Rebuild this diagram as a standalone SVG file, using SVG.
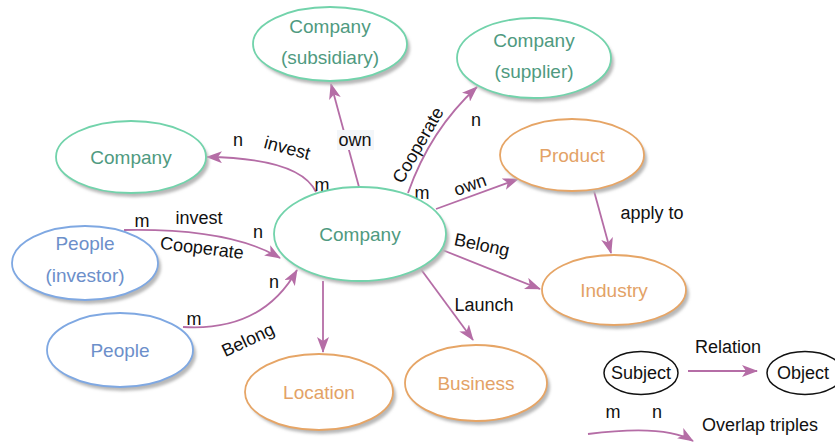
<svg xmlns="http://www.w3.org/2000/svg" width="835" height="442" viewBox="0 0 835 442">
  <defs>
    <filter id="soft" x="-10%" y="-10%" width="120%" height="130%">
      <feGaussianBlur stdDeviation="1.6"/>
    </filter>
    <marker id="arr" viewBox="0 0 16 12" refX="15" refY="6" markerWidth="16" markerHeight="12" markerUnits="userSpaceOnUse" orient="auto">
      <path d="M0,0 L16,6 L0,12 L4,6 z" fill="#b56da6"/>
    </marker>
  </defs>
  <style>
    text { font-family: "Liberation Sans", Arial, sans-serif; text-anchor: middle; }
    .shadow { fill: #b8b8b8; stroke: none; filter: url(#soft); }
    .node { fill: #ffffff; stroke-width: 1.8; }
    .green { stroke: #72d3ab; }
    .orange { stroke: #e6a566; }
    .blue { stroke: #7fa8e2; }
    .tg { fill: #4f9a80; font-size: 19px; }
    .to { fill: #e3a266; font-size: 19px; }
    .tb { fill: #6c8fca; font-size: 19px; }
    .lbl { fill: #111111; font-size: 18px; }
    .edge { fill: none; stroke: #b56da6; stroke-width: 1.8; marker-end: url(#arr); }
    .legend { fill: #ffffff; stroke: #111111; stroke-width: 1.5; }
  </style>

  <!-- connectors and their labels -->
  <g id="connectors">
    <path class="edge" d="M359,187 L331,84"/>
    <path class="edge" d="M316,192 Q300,158 207,157"/>
    <path class="edge" d="M408,193 Q430,130 477,87"/>
    <path class="edge" d="M436,209 L518,179"/>
    <path class="edge" d="M594,191 L611,253"/>
    <path class="edge" d="M440,249 L540,289"/>
    <path class="edge" d="M420,268 L473,340"/>
    <path class="edge" d="M323,281 L323,352"/>
    <path class="edge" d="M124,230 Q230,228 280,258"/>
    <path class="edge" d="M183,327 Q262,332 297,270"/>

    <rect x="337" y="130" width="37" height="20" fill="#f3f6f9"/>
    <text class="lbl" x="355" y="146">own</text>
    <text class="lbl" x="238" y="146">n</text>
    <text class="lbl" x="287" y="154" transform="rotate(15 287 149)">invest</text>
    <text class="lbl" x="322" y="191">m</text>
    <text class="lbl" x="418" y="151" transform="rotate(-60 418 145)">Cooperate</text>
    <text class="lbl" x="422" y="199">m</text>
    <text class="lbl" x="476" y="126">n</text>
    <text class="lbl" x="470" y="191" transform="rotate(-20 470 185)">own</text>
    <text class="lbl" x="652" y="219">apply to</text>
    <text class="lbl" x="482" y="251" transform="rotate(12 482 245)">Belong</text>
    <text class="lbl" x="484" y="311">Launch</text>
    <text class="lbl" x="142" y="227">m</text>
    <text class="lbl" x="199" y="224">invest</text>
    <text class="lbl" x="202" y="254" transform="rotate(7 202 248)">Cooperate</text>
    <text class="lbl" x="258" y="238">n</text>
    <text class="lbl" x="194" y="325">m</text>
    <text class="lbl" x="274" y="288">n</text>
    <text class="lbl" x="248" y="346" transform="rotate(-25 248 340)">Belong</text>
  </g>

  <!-- entity nodes -->
  <g id="company-main">
    <ellipse class="shadow" cx="363" cy="238" rx="86" ry="47"/>
    <ellipse class="node green" cx="360" cy="234" rx="86" ry="47"/>
    <text class="tg" x="360" y="241">Company</text>
  </g>
  <g id="company-subsidiary">
    <ellipse class="shadow" cx="333" cy="48" rx="77" ry="37"/>
    <ellipse class="node green" cx="330" cy="44" rx="77" ry="37"/>
    <text class="tg" x="330" y="33">Company</text>
    <text class="tg" x="330" y="64">(subsidiary)</text>
  </g>
  <g id="company-left">
    <ellipse class="shadow" cx="134" cy="161" rx="75" ry="36"/>
    <ellipse class="node green" cx="131" cy="157" rx="75" ry="36"/>
    <text class="tg" x="131" y="164">Company</text>
  </g>
  <g id="company-supplier">
    <ellipse class="shadow" cx="537" cy="62" rx="77" ry="40"/>
    <ellipse class="node green" cx="534" cy="58" rx="77" ry="40"/>
    <text class="tg" x="534" y="47">Company</text>
    <text class="tg" x="534" y="78">(supplier)</text>
  </g>
  <g id="product">
    <ellipse class="shadow" cx="575" cy="159" rx="72" ry="36"/>
    <ellipse class="node orange" cx="572" cy="155" rx="72" ry="36"/>
    <text class="to" x="572" y="162">Product</text>
  </g>
  <g id="industry">
    <ellipse class="shadow" cx="617" cy="294" rx="72" ry="35"/>
    <ellipse class="node orange" cx="614" cy="290" rx="72" ry="35"/>
    <text class="to" x="614" y="297">Industry</text>
  </g>
  <g id="business">
    <ellipse class="shadow" cx="479" cy="387" rx="71" ry="38"/>
    <ellipse class="node orange" cx="476" cy="383" rx="71" ry="38"/>
    <text class="to" x="476" y="390">Business</text>
  </g>
  <g id="location">
    <ellipse class="shadow" cx="322" cy="396" rx="74" ry="38"/>
    <ellipse class="node orange" cx="319" cy="392" rx="74" ry="38"/>
    <text class="to" x="319" y="399">Location</text>
  </g>
  <g id="people-investor">
    <ellipse class="shadow" cx="88" cy="267" rx="73" ry="37"/>
    <ellipse class="node blue" cx="85" cy="263" rx="73" ry="37"/>
    <text class="tb" x="85" y="250">People</text>
    <text class="tb" x="85" y="282">(investor)</text>
  </g>
  <g id="people">
    <ellipse class="shadow" cx="123" cy="354" rx="73" ry="37"/>
    <ellipse class="node blue" cx="120" cy="350" rx="73" ry="37"/>
    <text class="tb" x="120" y="357">People</text>
  </g>

  <!-- key -->
  <g id="legend">
    <ellipse class="legend" cx="641" cy="373" rx="37" ry="21.5"/>
    <text class="lbl" x="641" y="379" font-size="18">Subject</text>
    <ellipse class="legend" cx="805" cy="373" rx="38" ry="21.5"/>
    <text class="lbl" x="803" y="379" font-size="18">Object</text>
    <path class="edge" d="M688,371 L757,371"/>
    <text class="lbl" x="728" y="353">Relation</text>
    <text class="lbl" x="613" y="418">m</text>
    <text class="lbl" x="657" y="418">n</text>
    <text class="lbl" x="760" y="431">Overlap triples</text>
    <path class="edge" d="M588,434 Q665,424 693,441"/>
  </g>
</svg>
